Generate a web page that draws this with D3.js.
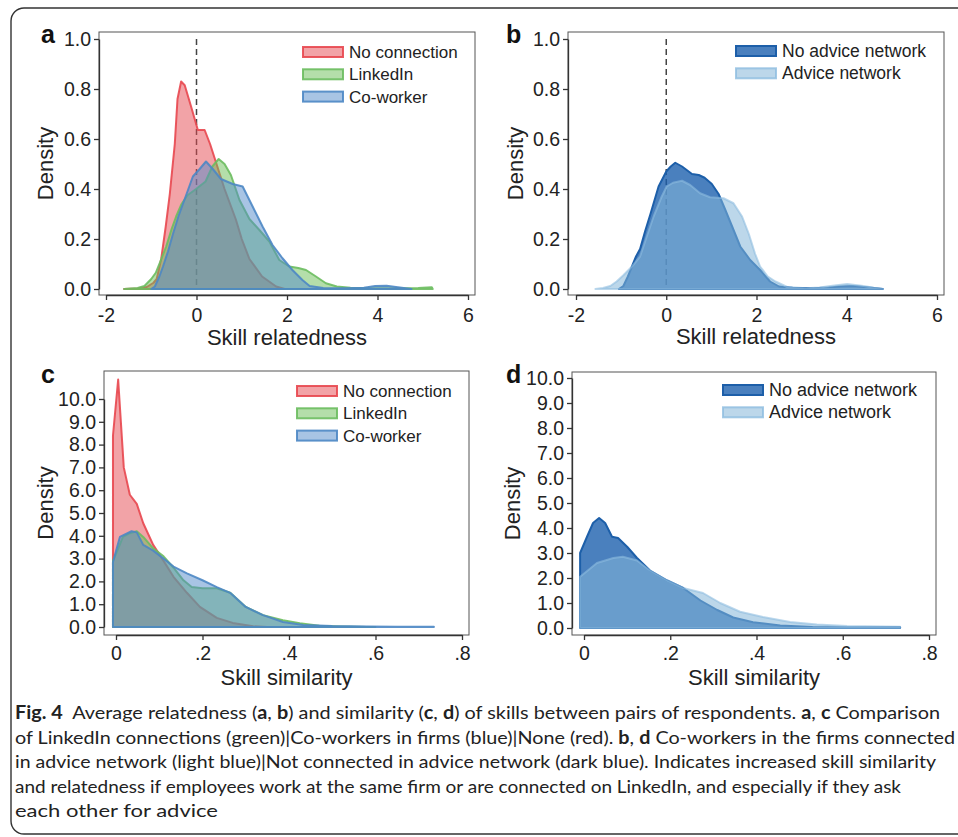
<!DOCTYPE html>
<html>
<head>
<meta charset="utf-8">
<script src="https://cdn.jsdelivr.net/npm/d3@7"></script>
<style>
  body { margin: 0; background: #fff; }
  svg { display: block; }
  .axis text { font-family: "Liberation Sans", Arial, sans-serif; fill: #222; }
  .axis path, .axis line { stroke: #333; }
</style>
</head>
<body>
<svg id="chart" width="958" height="837"></svg>
<script>
// tick values
const relTicksX = [-2, 0, 2, 4, 6];
const relTicksY = [0, 0.2, 0.4, 0.6, 0.8, 1.0];
const simTicksX = [0, 0.2, 0.4, 0.6, 0.8];
const simTicksY = [0, 1, 2, 3, 4, 5, 6, 7, 8, 9, 10];

const groupNames = ["No connection", "LinkedIn", "Co-worker"];
const adviceNames = ["No advice network", "Advice network"];

// a: skill relatedness densities, [x, density]
const relNone = [[-1.6,0],[-1.3,0.002],[-1.1,0.008],[-0.95,0.025],[-0.88,0.04],[-0.78,0.12],[-0.68,0.25],[-0.59,0.38],
  [-0.48,0.58],[-0.42,0.76],[-0.34,0.83],[-0.26,0.815],[-0.12,0.73],[-0.04,0.68],[0.03,0.636],[0.18,0.636],[0.3,0.58],
  [0.4,0.524],[0.62,0.4],[0.87,0.278],[1.0,0.2],[1.17,0.12],[1.45,0.05],[1.76,0.01],[1.95,0]];
const relLinkedin = [[-1.6,0],[-1.3,0.004],[-1.15,0.012],[-1.0,0.04],[-0.9,0.065],[-0.8,0.11],[-0.67,0.17],[-0.55,0.24],
  [-0.45,0.29],[-0.33,0.34],[-0.2,0.375],[-0.01,0.4],[0.2,0.43],[0.35,0.49],[0.49,0.52],[0.62,0.5],[0.76,0.456],[0.95,0.356],
  [1.17,0.28],[1.39,0.236],[1.61,0.19],[1.83,0.116],[2.05,0.09],[2.25,0.084],[2.42,0.076],[2.64,0.05],[2.86,0.023],[3.1,0.01],
  [3.4,0.005],[3.8,0.003],[4.4,0.003],[4.9,0.004],[5.2,0.007],[5.22,0]];
const relCoworker = [[-1.0,0],[-0.92,0.01],[-0.82,0.05],[-0.74,0.09],[-0.63,0.15],[-0.52,0.22],[-0.4,0.29],[-0.3,0.34],
  [-0.18,0.4],[-0.08,0.45],[0.07,0.48],[0.21,0.51],[0.36,0.48],[0.54,0.44],[0.8,0.42],[1.02,0.41],[1.24,0.33],[1.46,0.25],
  [1.68,0.176],[1.9,0.123],[2.12,0.076],[2.34,0.036],[2.5,0.012],[2.8,0.004],[3.3,0.003],[3.7,0.005],[3.95,0.012],[4.2,0.013],
  [4.45,0.007],[4.75,0]];

// b: relatedness, advice network split
const relNoAdvice = [[-1.05,0],[-0.95,0.012],[-0.85,0.05],[-0.76,0.09],[-0.67,0.13],[-0.58,0.16],[-0.47,0.23],[-0.35,0.3],
  [-0.17,0.41],[0,0.47],[0.1,0.49],[0.2,0.505],[0.35,0.49],[0.57,0.46],[0.72,0.456],[0.85,0.445],[1.01,0.42],[1.16,0.38],
  [1.31,0.316],[1.46,0.25],[1.64,0.17],[1.86,0.116],[2.08,0.076],[2.3,0.03],[2.5,0.01],[2.8,0.005],[3.26,0.003],[3.6,0.006],
  [3.86,0.01],[4.15,0.012],[4.6,0.004],[4.8,0]];
const relAdvice = [[-1.57,0],[-1.4,0.004],[-1.24,0.012],[-1.1,0.03],[-0.95,0.055],[-0.76,0.09],[-0.58,0.13],[-0.45,0.2],
  [-0.28,0.29],[-0.1,0.37],[0.01,0.41],[0.15,0.425],[0.35,0.433],[0.53,0.416],[0.75,0.383],[0.97,0.367],[1.27,0.363],
  [1.49,0.343],[1.68,0.29],[1.83,0.22],[1.97,0.14],[2.08,0.09],[2.25,0.05],[2.42,0.03],[2.68,0.008],[3.1,0.003],[3.4,0.006],
  [3.64,0.012],[4.01,0.02],[4.37,0.012],[4.6,0.005],[4.8,0]];

// c: skill similarity densities
const simNone = [[-0.007,0],[-0.007,8.4],[0.005,10.85],[0.018,7.0],[0.032,5.8],[0.048,5.4],[0.063,4.55],[0.086,3.6],
  [0.11,2.9],[0.133,2.2],[0.164,1.5],[0.194,0.88],[0.233,0.4],[0.27,0.18],[0.317,0.03],[0.35,0.005],[0.36,0]];
const simLinkedin = [[-0.007,0],[-0.007,2.9],[0.002,3.3],[0.016,3.95],[0.03,4.1],[0.048,4.2],[0.063,3.95],[0.086,3.45],
  [0.11,3.1],[0.133,2.6],[0.156,2.05],[0.175,1.75],[0.2,1.7],[0.233,1.7],[0.264,1.5],[0.3,0.88],[0.34,0.52],[0.386,0.3],
  [0.425,0.17],[0.47,0.05],[0.52,0.02],[0.58,0.005],[0.6,0]];
const simCoworker = [[-0.007,0],[-0.007,2.85],[0.009,3.95],[0.036,4.2],[0.048,4.15],[0.063,3.6],[0.086,3.35],[0.11,3.0],
  [0.133,2.65],[0.164,2.35],[0.2,2.05],[0.233,1.75],[0.264,1.5],[0.3,0.88],[0.34,0.52],[0.386,0.22],[0.433,0.09],[0.5,0.04],
  [0.58,0.02],[0.65,0.01],[0.735,0.01],[0.735,0]];

// d: similarity, advice network split
const simNoAdvice = [[-0.009,0],[-0.009,3.0],[0.007,3.65],[0.021,4.2],[0.035,4.4],[0.049,4.2],[0.065,3.65],[0.079,3.6],
  [0.1,3.25],[0.123,2.8],[0.153,2.3],[0.193,1.9],[0.23,1.6],[0.27,1.1],[0.309,0.72],[0.346,0.42],[0.392,0.23],[0.455,0.1],
  [0.53,0.04],[0.6,0.03],[0.733,0.03],[0.733,0]];
const simAdvice = [[-0.009,0],[-0.009,2.05],[0.03,2.6],[0.068,2.8],[0.09,2.85],[0.123,2.7],[0.153,2.3],[0.193,1.9],
  [0.23,1.6],[0.276,1.4],[0.316,1.0],[0.362,0.65],[0.415,0.44],[0.478,0.24],[0.54,0.14],[0.61,0.08],[0.733,0.05],[0.733,0]];

const captionLines = [
  [["Fig. 4", 1], ["  Average relatedness (", 0], ["a", 1], [", ", 0], ["b", 1], [") and similarity (", 0], ["c", 1], [", ", 0],
   ["d", 1], [") of skills between pairs of respondents. ", 0], ["a", 1], [", ", 0], ["c", 1], [" Comparison", 0]],
  [["of LinkedIn connections (green)|Co-workers in firms (blue)|None (red). ", 0], ["b", 1], [", ", 0], ["d", 1],
   [" Co-workers in the firms connected", 0]],
  [["in advice network (light blue)|Not connected in advice network (dark blue). Indicates increased skill similarity", 0]],
  [["and relatedness if employees work at the same firm or are connected on LinkedIn, and especially if they ask", 0]],
  [["each other for advice", 0]]
];
const captionWidths = [925, 940, 921, 886, 203];

const styles = {
  none:     { stroke: "#e8474f", fill: "#e5474f", op: 0.5, sop: 0.9 },
  linkedin: { stroke: "#6cbd5f", fill: "#69bd55", op: 0.5, sop: 0.9 },
  coworker: { stroke: "#4c87c4", fill: "#5189c9", op: 0.5, sop: 0.9 },
  noAdvice: { stroke: "#1d5fa9", fill: "#1d60ae", op: 0.8, sop: 1 },
  advice:   { stroke: "#8dbde0", fill: "#83b5d8", op: 0.54, sop: 0.6 }
};

const relFmt = d => String(d);
const simFmt = d => d === 0 ? "0" : String(d).replace(/^0/, "");
const yFmt = d3.format(".1f");

const panels = [
  { letter: "a", frame: [99, 32, 475, 295], letterPos: [41, 43], densX: 53,
    x: d3.scaleLinear().domain([-2, 6]).range([106, 468]), y: d3.scaleLinear().domain([0, 1]).range([289, 39]),
    xTicks: relTicksX, yTicks: relTicksY, xFmt: relFmt, xPad: 8, xTitle: "Skill relatedness", titleY: 345, ref: true,
    series: [[relNone, styles.none], [relLinkedin, styles.linkedin], [relCoworker, styles.coworker]],
    legend: { x: 303, y: 52, size: 17, names: groupNames, styles: [styles.none, styles.linkedin, styles.coworker] } },
  { letter: "b", frame: [568, 32, 944, 295], letterPos: [506, 43], densX: 523,
    x: d3.scaleLinear().domain([-2, 6]).range([576, 937]), y: d3.scaleLinear().domain([0, 1]).range([289, 39]),
    xTicks: relTicksX, yTicks: relTicksY, xFmt: relFmt, xPad: 8, xTitle: "Skill relatedness", titleY: 344, ref: true,
    series: [[relNoAdvice, styles.noAdvice], [relAdvice, styles.advice]],
    legend: { x: 736, y: 51, size: 17.5, names: adviceNames, styles: [styles.noAdvice, styles.advice] } },
  { letter: "c", frame: [104, 371, 469, 635], letterPos: [41, 383], densX: 53,
    x: d3.scaleLinear().domain([0, 0.8]).range([116, 462]), y: d3.scaleLinear().domain([0, 10]).range([627, 399]),
    xTicks: simTicksX, yTicks: simTicksY, xFmt: simFmt, xPad: 6, xTitle: "Skill similarity", titleY: 685, ref: false,
    series: [[simNone, styles.none], [simLinkedin, styles.linkedin], [simCoworker, styles.coworker]],
    legend: { x: 297, y: 391, size: 17, names: groupNames, styles: [styles.none, styles.linkedin, styles.coworker] } },
  { letter: "d", frame: [572, 372, 936, 635], letterPos: [506, 383], densX: 520,
    x: d3.scaleLinear().domain([0, 0.8]).range([584, 929]), y: d3.scaleLinear().domain([0, 10]).range([628, 378]),
    xTicks: simTicksX, yTicks: simTicksY, xFmt: simFmt, xPad: 6, xTitle: "Skill similarity", titleY: 685, ref: false,
    series: [[simNoAdvice, styles.noAdvice], [simAdvice, styles.advice]],
    legend: { x: 723, y: 390, size: 18, names: adviceNames, styles: [styles.noAdvice, styles.advice] } }
];

const svg = d3.select("#chart");
const font = '"Liberation Sans", Arial, sans-serif';

// rounded figure border
svg.append("rect")
    .attr("x", 11).attr("y", 8).attr("width", 970).attr("height", 826)
    .attr("rx", 13).attr("ry", 13)
    .attr("fill", "none").attr("stroke", "#333").attr("stroke-width", 1.4);

panels.forEach(p => {
  const g = svg.append("g");
  const [fx0, fy0, fx1, fy1] = p.frame;

  g.append("rect")
      .attr("x", fx0).attr("y", fy0).attr("width", fx1 - fx0).attr("height", fy1 - fy0)
      .attr("fill", "none").attr("stroke", "#555").attr("stroke-width", 1);

  if (p.ref) {
    g.append("line")
        .attr("x1", p.x(0)).attr("x2", p.x(0))
        .attr("y1", p.y(1)).attr("y2", p.y(0))
        .attr("stroke", "#444").attr("stroke-width", 1.5).attr("stroke-dasharray", "6,4");
  }

  const line = d3.line().x(d => p.x(d[0])).y(d => p.y(d[1]));
  p.series.forEach(([data, st]) => {
    g.append("path")
        .attr("d", line(data) + "Z")
        .attr("fill", st.fill).attr("fill-opacity", st.op)
        .attr("stroke", st.stroke).attr("stroke-opacity", st.sop)
        .attr("stroke-width", 2).attr("stroke-linejoin", "round");
  });

  g.append("g")
      .attr("class", "axis")
      .attr("transform", "translate(0," + fy1 + ")")
      .call(d3.axisBottom(p.x).tickValues(p.xTicks).tickFormat(p.xFmt).tickSize(5).tickSizeOuter(0).tickPadding(p.xPad))
      .call(a => a.selectAll("text").attr("font-size", 19.5));

  g.append("g")
      .attr("class", "axis")
      .attr("transform", "translate(" + fx0 + ",0)")
      .call(d3.axisLeft(p.y).tickValues(p.yTicks).tickFormat(yFmt).tickSize(5).tickSizeOuter(0).tickPadding(3))
      .call(a => a.selectAll("text").attr("font-size", 19.5));

  g.selectAll(".axis path, .axis line").attr("stroke-width", 1.3);

  g.append("text")
      .attr("x", (fx0 + fx1) / 2).attr("y", p.titleY)
      .attr("text-anchor", "middle").attr("font-family", font).attr("font-size", 22).attr("fill", "#222")
      .text(p.xTitle);

  g.append("text")
      .attr("transform", "translate(" + p.densX + "," + (fy0 + fy1) / 2 + ") rotate(-90)")
      .attr("text-anchor", "middle").attr("font-family", font).attr("font-size", 22).attr("fill", "#222")
      .text("Density");

  g.append("text")
      .attr("x", p.letterPos[0]).attr("y", p.letterPos[1])
      .attr("font-family", font).attr("font-weight", "bold").attr("font-size", 25).attr("fill", "#111")
      .text(p.letter);

  const lg = p.legend;
  lg.names.forEach((name, i) => {
    const cy = lg.y + i * 22.3;
    const st = lg.styles[i];
    g.append("rect")
        .attr("x", lg.x).attr("y", cy - 5).attr("width", 40).attr("height", 10)
        .attr("fill", st.fill).attr("fill-opacity", st.op)
        .attr("stroke", st.stroke).attr("stroke-opacity", Math.max(st.sop, 0.8)).attr("stroke-width", 2);
    g.append("text")
        .attr("x", lg.x + 46).attr("y", cy + 6)
        .attr("font-family", font).attr("font-size", lg.size).attr("fill", "#222")
        .text(name);
  });
});

// caption
const cap = svg.append("g").attr("font-family", "Lato, 'Open Sans', sans-serif").attr("font-size", 18).attr("fill", "#222");
captionLines.forEach((parts, i) => {
  const t = cap.append("text")
      .attr("x", 15).attr("y", 719 + i * 24.6)
      .attr("textLength", captionWidths[i]).attr("lengthAdjust", "spacingAndGlyphs")
      .style("white-space", "pre");
  parts.forEach(([s, b]) => {
    t.append("tspan").attr("font-weight", b ? "bold" : null).text(s);
  });
});
</script>
</body>
</html>
